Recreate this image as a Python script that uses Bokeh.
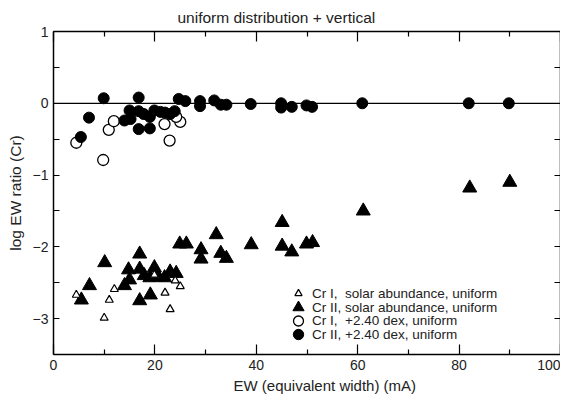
from bokeh.plotting import figure
from bokeh.models import (Range1d, FixedTicker, LinearAxis, Span, Legend, LegendItem, Title)
from bokeh.embed import file_html
from bokeh.resources import INLINE

# ---- data ----
cr1_solar_ew = [4.5, 11.0, 12.0, 10.0, 22.0, 23.0, 24.0, 25.0, 19.9]
cr1_solar_lr = [-2.67, -2.74, -2.59, -2.99, -2.64, -2.87, -2.47, -2.55, -2.39]

cr2_solar_ew = [5.5, 7.1, 10.1, 14.0, 15.0, 14.8, 17.0, 17.0, 17.9, 19.0, 19.9, 20.7,
                21.9, 23.0, 24.2, 17.0, 19.1, 24.9, 26.2, 29.1, 29.1, 32.1, 33.0, 34.1,
                39.0, 45.1, 45.1, 47.0, 49.9, 51.1, 61.1, 82.1, 90.0]
cr2_solar_lr = [-2.74, -2.54, -2.22, -2.54, -2.46, -2.32, -2.10, -2.31, -2.40, -2.43, -2.29, -2.42,
                -2.43, -2.35, -2.37, -2.75, -2.67, -1.96, -1.96, -2.04, -2.17, -1.83, -2.09, -2.16,
                -1.97, -1.66, -1.99, -2.07, -1.96, -1.94, -1.50, -1.18, -1.10]

cr1_dex_ew = [4.5, 9.8, 10.9, 11.9, 21.9, 22.9, 25.0, 24.2]
cr1_dex_lr = [-0.55, -0.79, -0.37, -0.25, -0.29, -0.52, -0.26, -0.19]

cr2_dex_ew = [5.4, 7.0, 9.9, 16.8, 15.0, 14.0, 15.2, 16.8, 17.8, 19.0, 16.8, 19.0,
              19.9, 21.1, 22.0, 23.0, 23.9, 24.7, 26.0, 28.9, 28.9, 31.7, 33.0, 34.1,
              38.9, 44.9, 44.9, 47.0, 49.9, 51.0, 60.9, 81.9, 89.8]
cr2_dex_lr = [-0.47, -0.20, 0.07, 0.08, -0.10, -0.24, -0.22, -0.11, -0.15, -0.19, -0.36, -0.35,
              -0.10, -0.12, -0.13, -0.15, -0.11, 0.06, 0.03, 0.03, -0.04, 0.04, -0.02, -0.02,
              -0.01, 0.00, -0.06, -0.05, -0.03, -0.05, 0.00, 0.00, 0.00]

legend_labels = ["Cr I,  solar abundance, uniform",
                 "Cr II, solar abundance, uniform",
                 "Cr I,  +2.40 dex, uniform",
                 "Cr II, +2.40 dex, uniform"]

x_ticks = [0, 20, 40, 60, 80, 100]
x_minor = [10, 30, 50, 70, 90]
y_ticks = [-3, -2, -1, 0, 1]
y_minor = [-3.5, -2.5, -1.5, -0.5, 0.5]

title_text = "uniform distribution + vertical"
x_label = "EW (equivalent width) (mA)"
y_label = "log EW ratio (Cr)"

FONT = "Liberation Sans"
TXT = "#222222"

p = figure(width=560, height=396, output_backend="svg", toolbar_location=None,
           x_range=Range1d(0, 100), y_range=Range1d(-3.5, 1),
           min_border_left=53, min_border_right=0, min_border_top=31, min_border_bottom=0,
           background_fill_color="white", border_fill_color="white")
p.outline_line_color = None
p.grid.visible = False

def make_title(text, size, offset, standoff, valign="bottom"):
    return Title(text=text, align="left", offset=offset, standoff=standoff,
                 vertical_align=valign, text_font=FONT, text_font_size=size,
                 text_font_style="normal", text_color=TXT)

def style_axis(ax, ticks, minor, major_in, minor_in, labels=True):
    ax.ticker = FixedTicker(ticks=ticks, minor_ticks=minor)
    ax.major_tick_in = major_in
    ax.major_tick_out = 0
    ax.minor_tick_in = minor_in
    ax.minor_tick_out = 0
    ax.axis_line_width = 1.5
    ax.axis_line_color = "black"
    ax.major_tick_line_color = "black"
    ax.minor_tick_line_color = "black"
    ax.major_tick_line_width = 1.2
    ax.minor_tick_line_width = 1.2
    ax.major_label_text_font = FONT
    ax.major_label_text_font_size = "14px"
    ax.major_label_text_color = TXT
    ax.major_label_standoff = 5
    if not labels:
        ax.major_label_overrides = {t: "" for t in ticks}
        ax.major_label_text_font_size = "1px"
        ax.major_label_standoff = 0

xax = p.xaxis[0]
yax = p.yaxis[0]
style_axis(xax, x_ticks, x_minor, 10, 5)
style_axis(yax, y_ticks, y_minor, 6, 6)
yax.major_label_overrides = {t: (str(t).replace("-", "\u2212")) for t in y_ticks}
yax.axis_label = y_label
yax.axis_label_text_font = FONT
yax.axis_label_text_font_size = "15.5px"
yax.axis_label_text_font_style = "normal"
yax.axis_label_text_color = TXT
yax.axis_label_standoff = 6

top = LinearAxis()
style_axis(top, x_ticks, x_minor, 10, 5, labels=False)
right = LinearAxis()
style_axis(right, y_ticks, y_minor, 6, 6, labels=False)
p.add_layout(top, "above")
p.add_layout(right, "right")

# titles (plot title above, x-axis label below), shifted like the reference
p.add_layout(make_title(title_text, "15.5px", 124, 8, "top"), "above")
p.add_layout(make_title(x_label, "15px", 180, 5), "below")

p.add_layout(Span(location=0, dimension="width", line_color="black", line_width=1.3))

r_ft = p.scatter(cr2_solar_ew, cr2_solar_lr, marker="triangle", size=14,
                 fill_color="black", line_color="black")
r_ot = p.scatter(cr1_solar_ew, cr1_solar_lr, marker="triangle", size=8,
                 fill_color="white", line_color="black", line_width=1.2)
r_oc = p.scatter(cr1_dex_ew, cr1_dex_lr, marker="circle", size=11,
                 fill_color="white", line_color="black", line_width=1.3)
r_fc = p.scatter(cr2_dex_ew, cr2_dex_lr, marker="circle", size=11,
                 fill_color="black", line_color="black")

# one legend per row so that rows sit close together with large markers
GW = 28
rows = [(legend_labels[0], r_ot, 18, 61),
        (legend_labels[1], r_ft, 30, 47),
        (legend_labels[2], r_oc, 25, 34),
        (legend_labels[3], r_fc, 26, 20)]
for lab, rend, g, cy in rows:
    lg = Legend(items=[LegendItem(label=lab, renderers=[rend])],
                location=(int(245 - GW / 2), int(cy - g / 2)))
    lg.border_line_color = None
    lg.background_fill_alpha = 0
    lg.glyph_width = GW
    lg.glyph_height = g
    lg.label_height = g
    lg.padding = 0
    lg.margin = 0
    lg.label_standoff = 0
    lg.label_text_font = FONT
    lg.label_text_font_size = "13.5px"
    lg.label_text_color = TXT
    p.add_layout(lg, "center")

open("out.html", "w").write(file_html(p, INLINE))
